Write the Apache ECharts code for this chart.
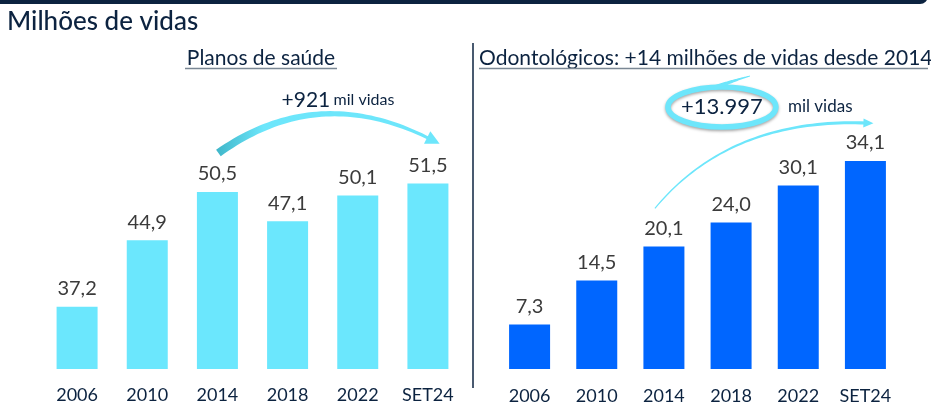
<!DOCTYPE html>
<html>
<head>
<meta charset="utf-8">
<script src="https://cdn.jsdelivr.net/npm/echarts@6/dist/echarts.min.js"></script>
<style>
html,body{margin:0;padding:0;background:#fff;}
#c{width:931px;height:405px;}
</style>
</head>
<body>
<div id="c"></div>
<script>
const categories = ['2006', '2010', '2014', '2018', '2022', 'SET24'];
const planosValues = [37.2, 44.9, 50.5, 47.1, 50.1, 51.5];
const odontoValues = [7.3, 14.5, 20.1, 24.0, 30.1, 34.1];
const mainTitle = 'Milhões de vidas';
const leftTitle = 'Planos de saúde';
const rightTitle = 'Odontológicos: +14 milhões de vidas desde 2014';
const leftNoteBig = '+921';
const rightNoteBig = '+13.997';
const noteSmall = 'mil vidas';

const NAVY = '#0c2340';
const FONT = 'Lato';
const fmt = v => v.toFixed(1).replace('.', ',');

const chart = echarts.init(document.getElementById('c'), null, {renderer: 'canvas'});

function xAxisCfg(gridIndex, margin) {
  return {
    type: 'category', gridIndex: gridIndex, data: categories,
    axisLine: {show: false}, axisTick: {show: false},
    axisLabel: {color: NAVY, fontFamily: FONT, fontSize: 18, margin: margin, interval: 0, hideOverlap: false}
  };
}
function yAxisCfg(gridIndex, min, max) {
  return {type: 'value', gridIndex: gridIndex, min: min, max: max, show: false, splitLine: {show: false}};
}
function barSeries(idx, data, color) {
  return {
    type: 'bar', xAxisIndex: idx, yAxisIndex: idx, data: data, barWidth: 41,
    itemStyle: {color: color},
    label: {show: true, position: 'top', distance: 8, color: '#3b3b3b', fontFamily: FONT,
            fontSize: 20, formatter: p => fmt(p.value)},
    animation: false
  };
}

chart.setOption({
  animation: false,
  grid: [
    {left: 42, width: 421, top: 110, height: 259},
    {left: 496, width: 403, top: 125, height: 246}
  ],
  xAxis: [xAxisCfg(0, 17), xAxisCfg(1, 18)],
  yAxis: [yAxisCfg(0, 30, 60), yAxisCfg(1, 0, 40)],
  series: [barSeries(0, planosValues, '#6be7fd'), barSeries(1, odontoValues, '#0066ff')]
});

function px(si, i, v) { return chart.convertToPixel({seriesIndex: si}, [i, v]); }

function taperQuad(p0, c, p2, w0, w1, n) {
  n = n || 48;
  const L = [], R = [];
  for (let k = 0; k <= n; k++) {
    const t = k / n, u = 1 - t;
    const x = u*u*p0[0] + 2*u*t*c[0] + t*t*p2[0];
    const y = u*u*p0[1] + 2*u*t*c[1] + t*t*p2[1];
    let dx = 2*u*(c[0]-p0[0]) + 2*t*(p2[0]-c[0]);
    let dy = 2*u*(c[1]-p0[1]) + 2*t*(p2[1]-c[1]);
    const len = Math.hypot(dx, dy) || 1; dx /= len; dy /= len;
    const w = (w0 + (w1 - w0) * t) / 2;
    L.push([x - dy*w, y + dx*w]);
    R.push([x + dy*w, y - dx*w]);
  }
  return L.concat(R.reverse());
}
function arrowHead(c, p2, size, half) {
  let dx = p2[0]-c[0], dy = p2[1]-c[1];
  const len = Math.hypot(dx, dy); dx /= len; dy /= len;
  const tip = [p2[0] + dx*size*0.7, p2[1] + dy*size*0.7];
  const b = [p2[0] - dx*size*0.3, p2[1] - dy*size*0.3];
  return [tip, [b[0] - dy*half, b[1] + dx*half], [b[0] + dy*half, b[1] - dx*half]];
}

// left annotation anchored on bars 2014 and SET24
const l0 = px(0, 2, planosValues[2]);
const l2 = px(0, 5, planosValues[5]);
const lp0 = [l0[0] + 1, l0[1] - 39];
const lp2 = [l2[0] + 3, l2[1] - 44];
const lc = [318, 82];

// right annotation anchored on bars 2014 and SET24
const r0 = px(1, 2, odontoValues[2]);
const r2 = px(1, 5, odontoValues[5]);
const rp0 = [r0[0] - 9, r0[1] - 38];
const rp2 = [r2[0] + 1, r2[1] - 38];
const rc = [730, 118];
const ell = {cx: r0[0] + 58, cy: 107};

const CYAN = '#6de6fb';

chart.setOption({
  graphic: [
    {type: 'rect', shape: {x: -10, y: -20, width: 938, height: 24, r: 8}, style: {fill: NAVY}},
    {type: 'text', x: 7, y: 22, style: {text: mainTitle, fill: NAVY, font: '500 26px ' + FONT, textVerticalAlign: 'middle'}},
    {type: 'line', shape: {x1: 473, y1: 43, x2: 473, y2: 388}, style: {stroke: NAVY, lineWidth: 1.5}},
    {type: 'text', x: 261, y: 58, style: {text: leftTitle, fill: NAVY, font: '21px ' + FONT, textAlign: 'center', textVerticalAlign: 'middle'}},
    {type: 'line', shape: {x1: 185, y1: 68.5, x2: 337, y2: 68.5}, style: {stroke: '#7a8794', lineWidth: 1.5}},
    {type: 'text', x: 479, y: 58, style: {text: rightTitle, fill: NAVY, font: '21px ' + FONT, textVerticalAlign: 'middle'}},
    {type: 'line', shape: {x1: 479, y1: 68.5, x2: 928, y2: 68.5}, style: {stroke: '#7a8794', lineWidth: 1.5}},

    // left arc
    {type: 'polygon', shape: {points: taperQuad(lp0, lc, lp2, 8, 3)},
     style: {fill: new echarts.graphic.LinearGradient(0, 0, 1, 0, [
       {offset: 0, color: '#3fb6c9'}, {offset: 0.22, color: CYAN}, {offset: 1, color: CYAN}])}},
    {type: 'polygon', shape: {points: arrowHead(lc, lp2, 14, 7)}, style: {fill: CYAN}},
    {type: 'text', x: 338, y: 100, style: {
      text: '{a|' + leftNoteBig + '} {b|' + noteSmall + '}', textAlign: 'center', textVerticalAlign: 'middle',
      rich: {a: {fontSize: 21, fontFamily: FONT, fill: NAVY, color: NAVY}, b: {fontSize: 16, fontFamily: FONT, fill: NAVY, color: NAVY}}}},

    // right arc
    {type: 'polygon', shape: {points: taperQuad(rp0, rc, rp2, 1.2, 3.2)}, style: {fill: CYAN}},
    {type: 'polygon', shape: {points: arrowHead(rc, rp2, 10, 4.5)}, style: {fill: CYAN}},
    // ring
    {type: 'ellipse', shape: {cx: ell.cx, cy: ell.cy, rx: 54, ry: 20},
     style: {fill: 'none', stroke: CYAN, lineWidth: 5.5, shadowBlur: 3, shadowColor: 'rgba(0,0,0,0.35)', shadowOffsetY: 1.5}},
    {type: 'polygon', shape: {points: taperQuad([ell.cx - 8, ell.cy - 19], [ell.cx + 10, ell.cy - 26], [ell.cx + 28, ell.cy - 31], 5, 0.8)},
     style: {fill: CYAN}},
    {type: 'text', x: ell.cx, y: ell.cy, style: {text: rightNoteBig, fill: NAVY, font: '22px ' + FONT, textAlign: 'center', textVerticalAlign: 'middle'}},
    {type: 'text', x: ell.cx + 66, y: ell.cy, style: {text: noteSmall, fill: NAVY, font: '17px ' + FONT, textVerticalAlign: 'middle'}}
  ]
});
</script>
</body>
</html>
